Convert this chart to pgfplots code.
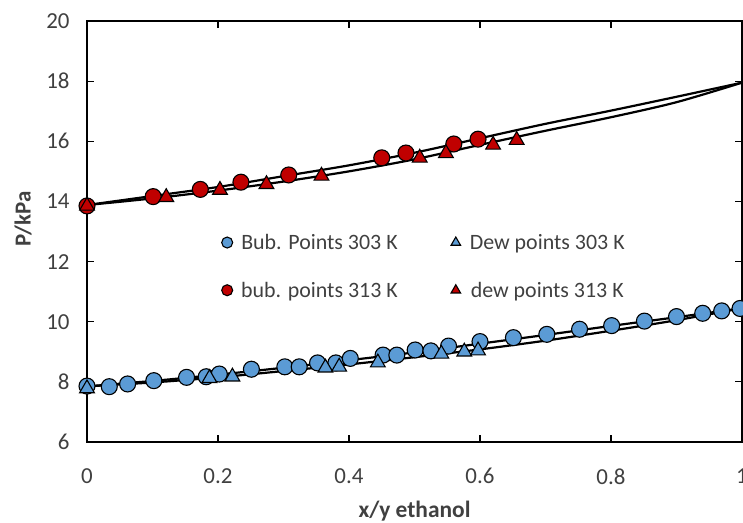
\documentclass[border=0pt]{standalone}
\usepackage{pgfplots}
\pgfplotsset{compat=1.18}
\usepackage{fontspec}
\setmainfont{Carlito}
\definecolor{bblue}{HTML}{5B9BD5}
\definecolor{rred}{HTML}{C00000}
\definecolor{tgray}{HTML}{404040}
\begin{document}
\begin{tikzpicture}[x=1bp,y=1bp]
\begin{axis}[
  name=ax,
  width=655bp, height=421bp, scale only axis,
  xmin=0, xmax=1, ymin=6, ymax=20,
  xtick={0,0.2,0.4,0.6,0.8,1},
  ytick={6,8,10,12,14,16,18,20},
  xticklabels={0,0.2,0.4,0.6,0.8,1},
  tick align=inside,
  major tick length=7bp,
  tick style={black, line width=1.2bp},
  axis line style={black, line width=1.5bp},
  /pgf/number format/assume math mode=true,
  ticklabel style={font=\fontsize{23}{27}\selectfont, text=tgray},
  xticklabel style={yshift=-23bp},
  yticklabel style={xshift=-14bp},
  xlabel={x/y ethanol},
  ylabel={P/kPa},
  xlabel style={font=\fontsize{23.5}{27}\selectfont\bfseries, text=tgray, at={(rel axis cs:0.5,0)}, anchor=center, yshift=-69bp},
  ylabel style={font=\fontsize{23}{27}\selectfont\bfseries, text=tgray, at={(axis description cs:-0.0977,0.53)}, anchor=center},
  legend columns=2,
  legend style={draw=none, fill=none, at={(axis cs:0.2,13.05)}, anchor=north west,
    font=\fontsize{22}{26}\selectfont, text=tgray,
    /tikz/every even column/.append style={column sep=50bp},
    row sep=27bp},
  legend image code/.code={\draw[#1, mark size=5.5bp, line width=1.1bp] plot[only marks] coordinates {(0,0)}; \path[draw=none, fill=none] (-6bp,0) -- (12bp,0);},
  clip=false,
]
% curves
\addplot[black, line width=2.2bp, forget plot, smooth] coordinates {(0,13.88)(0.1,14.18)(0.2,14.48)(0.3,14.84)(0.4,15.2)(0.5,15.62)(0.6,16.1)(0.7,16.58)(0.8,17.02)(0.9,17.48)(1,17.95)};
\addplot[black, line width=2.2bp, forget plot, smooth] coordinates {(0,13.88)(0.1,14.1)(0.2,14.36)(0.3,14.66)(0.4,15.0)(0.5,15.4)(0.6,15.88)(0.7,16.35)(0.8,16.8)(0.9,17.3)(1,17.95)};
\addplot[black, line width=2.2bp, forget plot, smooth] coordinates {(0,7.85)(0.1,8.03)(0.2,8.24)(0.3,8.47)(0.4,8.72)(0.5,8.98)(0.6,9.27)(0.7,9.56)(0.8,9.86)(0.9,10.15)(1,10.45)};
\addplot[black, line width=2.2bp, forget plot, smooth] coordinates {(0,7.85)(0.1,7.98)(0.2,8.15)(0.3,8.36)(0.4,8.58)(0.5,8.82)(0.6,9.08)(0.7,9.37)(0.8,9.7)(0.9,10.05)(1,10.45)};
% Bub 303
\addplot[only marks, mark=*, mark size=8bp, mark options={fill=bblue, draw=black, line width=1.1bp}] coordinates {
(0,7.86)(0.034,7.84)(0.062,7.93)(0.102,8.04)(0.152,8.15)(0.182,8.17)(0.202,8.26)(0.251,8.42)(0.302,8.50)(0.324,8.50)(0.352,8.63)(0.380,8.63)(0.402,8.78)(0.452,8.89)(0.473,8.89)(0.501,9.06)(0.525,9.03)(0.552,9.19)(0.600,9.34)(0.651,9.47)(0.702,9.58)(0.752,9.75)(0.801,9.87)(0.851,10.02)(0.900,10.17)(0.940,10.28)(0.969,10.36)(0.997,10.44)};
\addlegendentry{Bub. Points 303 K}
% Dew 303
\addplot[only marks, mark=triangle*, mark size=8.5bp, mark options={fill=bblue, draw=black, line width=1.1bp}] coordinates {
(0,7.78)(0.187,8.12)(0.222,8.17)(0.364,8.47)(0.385,8.50)(0.444,8.64)(0.541,8.93)(0.576,9.00)(0.597,9.04)};
\addlegendentry{Dew points 303 K}
% bub 313
\addplot[only marks, mark=*, mark size=8bp, mark options={fill=rred, draw=black, line width=1.1bp}] coordinates {
(0,13.85)(0.101,14.16)(0.173,14.40)(0.235,14.64)(0.308,14.88)(0.450,15.45)(0.487,15.61)(0.560,15.91)(0.597,16.07)};
\addlegendentry{bub. points 313 K}
% dew 313
\addplot[only marks, mark=triangle*, mark size=8.5bp, mark options={fill=rred, draw=black, line width=1.1bp}] coordinates {
(0,13.85)(0.121,14.14)(0.203,14.38)(0.274,14.57)(0.358,14.85)(0.508,15.45)(0.548,15.60)(0.620,15.88)(0.656,16.04)};
\addlegendentry{dew points 313 K}
\end{axis}
\pgfresetboundingbox
\path ([xshift=-87bp,yshift=-81bp]ax.south west) rectangle ([xshift=1bp,yshift=21bp]ax.north east);
\end{tikzpicture}
\end{document}
